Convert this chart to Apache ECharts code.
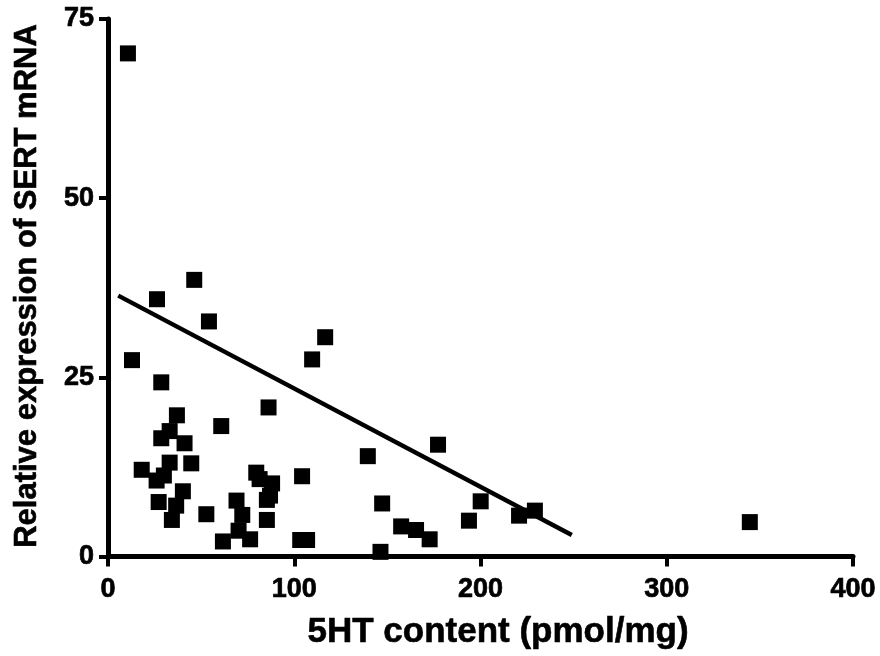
<!DOCTYPE html>
<html>
<head>
<meta charset="utf-8">
<script src="https://cdn.jsdelivr.net/npm/echarts@6/dist/echarts.min.js"></script>
<style>
html,body{margin:0;padding:0;background:#fff;}
#c{width:880px;height:656px;}
</style>
</head>
<body>
<div id="c"></div>
<script>
var xValues = [10.7, 46.3, 26.3, 54.2, 116.6, 109.6, 12.9, 28.6, 86.2, 37.0,
  60.8, 33.1, 28.6, 41.1, 33.1, 44.7, 18.1, 30.0, 26.1, 79.6,
  81.4, 88.1, 85.3, 87.0, 104.2, 40.2, 27.2, 36.6, 34.3, 52.8,
  69.0, 72.1, 70.1, 61.7, 76.3, 85.3, 103.2, 106.9, 139.5, 177.2,
  147.2, 157.4, 165.4, 172.7, 146.3, 200.1, 193.8, 220.7, 229.2, 344.6];
var yValues = [70.2, 38.6, 35.9, 32.8, 30.6, 27.5, 27.4, 24.3, 20.8, 19.7,
  18.2, 17.5, 16.5, 15.8, 13.1, 13.0, 12.1, 11.3, 10.6, 11.7,
  10.8, 10.2, 7.9, 8.5, 11.2, 9.1, 7.6, 7.1, 5.1, 5.9,
  7.8, 5.8, 3.6, 2.1, 2.4, 5.1, 2.3, 2.3, 14.0, 15.6,
  7.4, 4.2, 3.7, 2.4, 0.65, 7.7, 5.0, 5.7, 6.4, 4.8];
var fitX = [5.5, 249];
var fitY = [36.4, 3.0];
var xTicks = [0, 100, 200, 300, 400];
var yTicks = [0, 25, 50, 75];
var xTitle = '5HT content (pmol/mg)';
var yTitle = 'Relative expression of SERT mRNA';

var pts = xValues.map(function (x, i) { return [x, yValues[i]]; });
var fit = fitX.map(function (x, i) { return [x, fitY[i]]; });
var FONT = '"Liberation Sans", Arial, Helvetica, sans-serif';

var chart = echarts.init(document.getElementById('c'), null, {renderer: 'canvas'});
chart.setOption({
  animation: false,
  backgroundColor: '#fff',
  grid: {left: 108, right: 27, top: 19, bottom: 99.5, containLabel: false},
  xAxis: {
    type: 'value', min: xTicks[0], max: xTicks[xTicks.length - 1], interval: 100,
    axisLine: {show: true, onZero: false, lineStyle: {color: '#000', width: 5}},
    axisTick: {show: true, length: 10, lineStyle: {color: '#000', width: 4}},
    axisLabel: {color: '#000', fontFamily: FONT, fontWeight: 'bold', fontSize: 27, margin: 20,
      textBorderColor: '#000', textBorderWidth: 0.7},
    splitLine: {show: false}
  },
  yAxis: {
    type: 'value', min: yTicks[0], max: yTicks[yTicks.length - 1], interval: 25,
    axisLine: {show: true, onZero: false, lineStyle: {color: '#000', width: 5}},
    axisTick: {show: true, length: 9, lineStyle: {color: '#000', width: 4}},
    axisLabel: {color: '#000', fontFamily: FONT, fontWeight: 'bold', fontSize: 27, margin: 14,
      textBorderColor: '#000', textBorderWidth: 0.7},
    splitLine: {show: false}
  },
  graphic: [
    {type: 'text', x: 498, y: 632, style: {text: xTitle, fill: '#000', font: 'bold 35px ' + FONT,
      textAlign: 'center', textVerticalAlign: 'middle', stroke: '#000', lineWidth: 0.6}},
    {type: 'text', x: 27, y: 286, rotation: Math.PI / 2, style: {text: yTitle, fill: '#000', font: 'bold 31px ' + FONT,
      textAlign: 'center', textVerticalAlign: 'middle', stroke: '#000', lineWidth: 0.6}}
  ],
  series: [
    {
      type: 'scatter', data: pts, symbol: 'rect', symbolSize: 16,
      itemStyle: {color: '#000', opacity: 1}
    },
    {
      type: 'line', data: fit, symbol: 'none', lineStyle: {color: '#000', width: 4.5}, z: 3
    }
  ]
});
</script>
</body>
</html>
